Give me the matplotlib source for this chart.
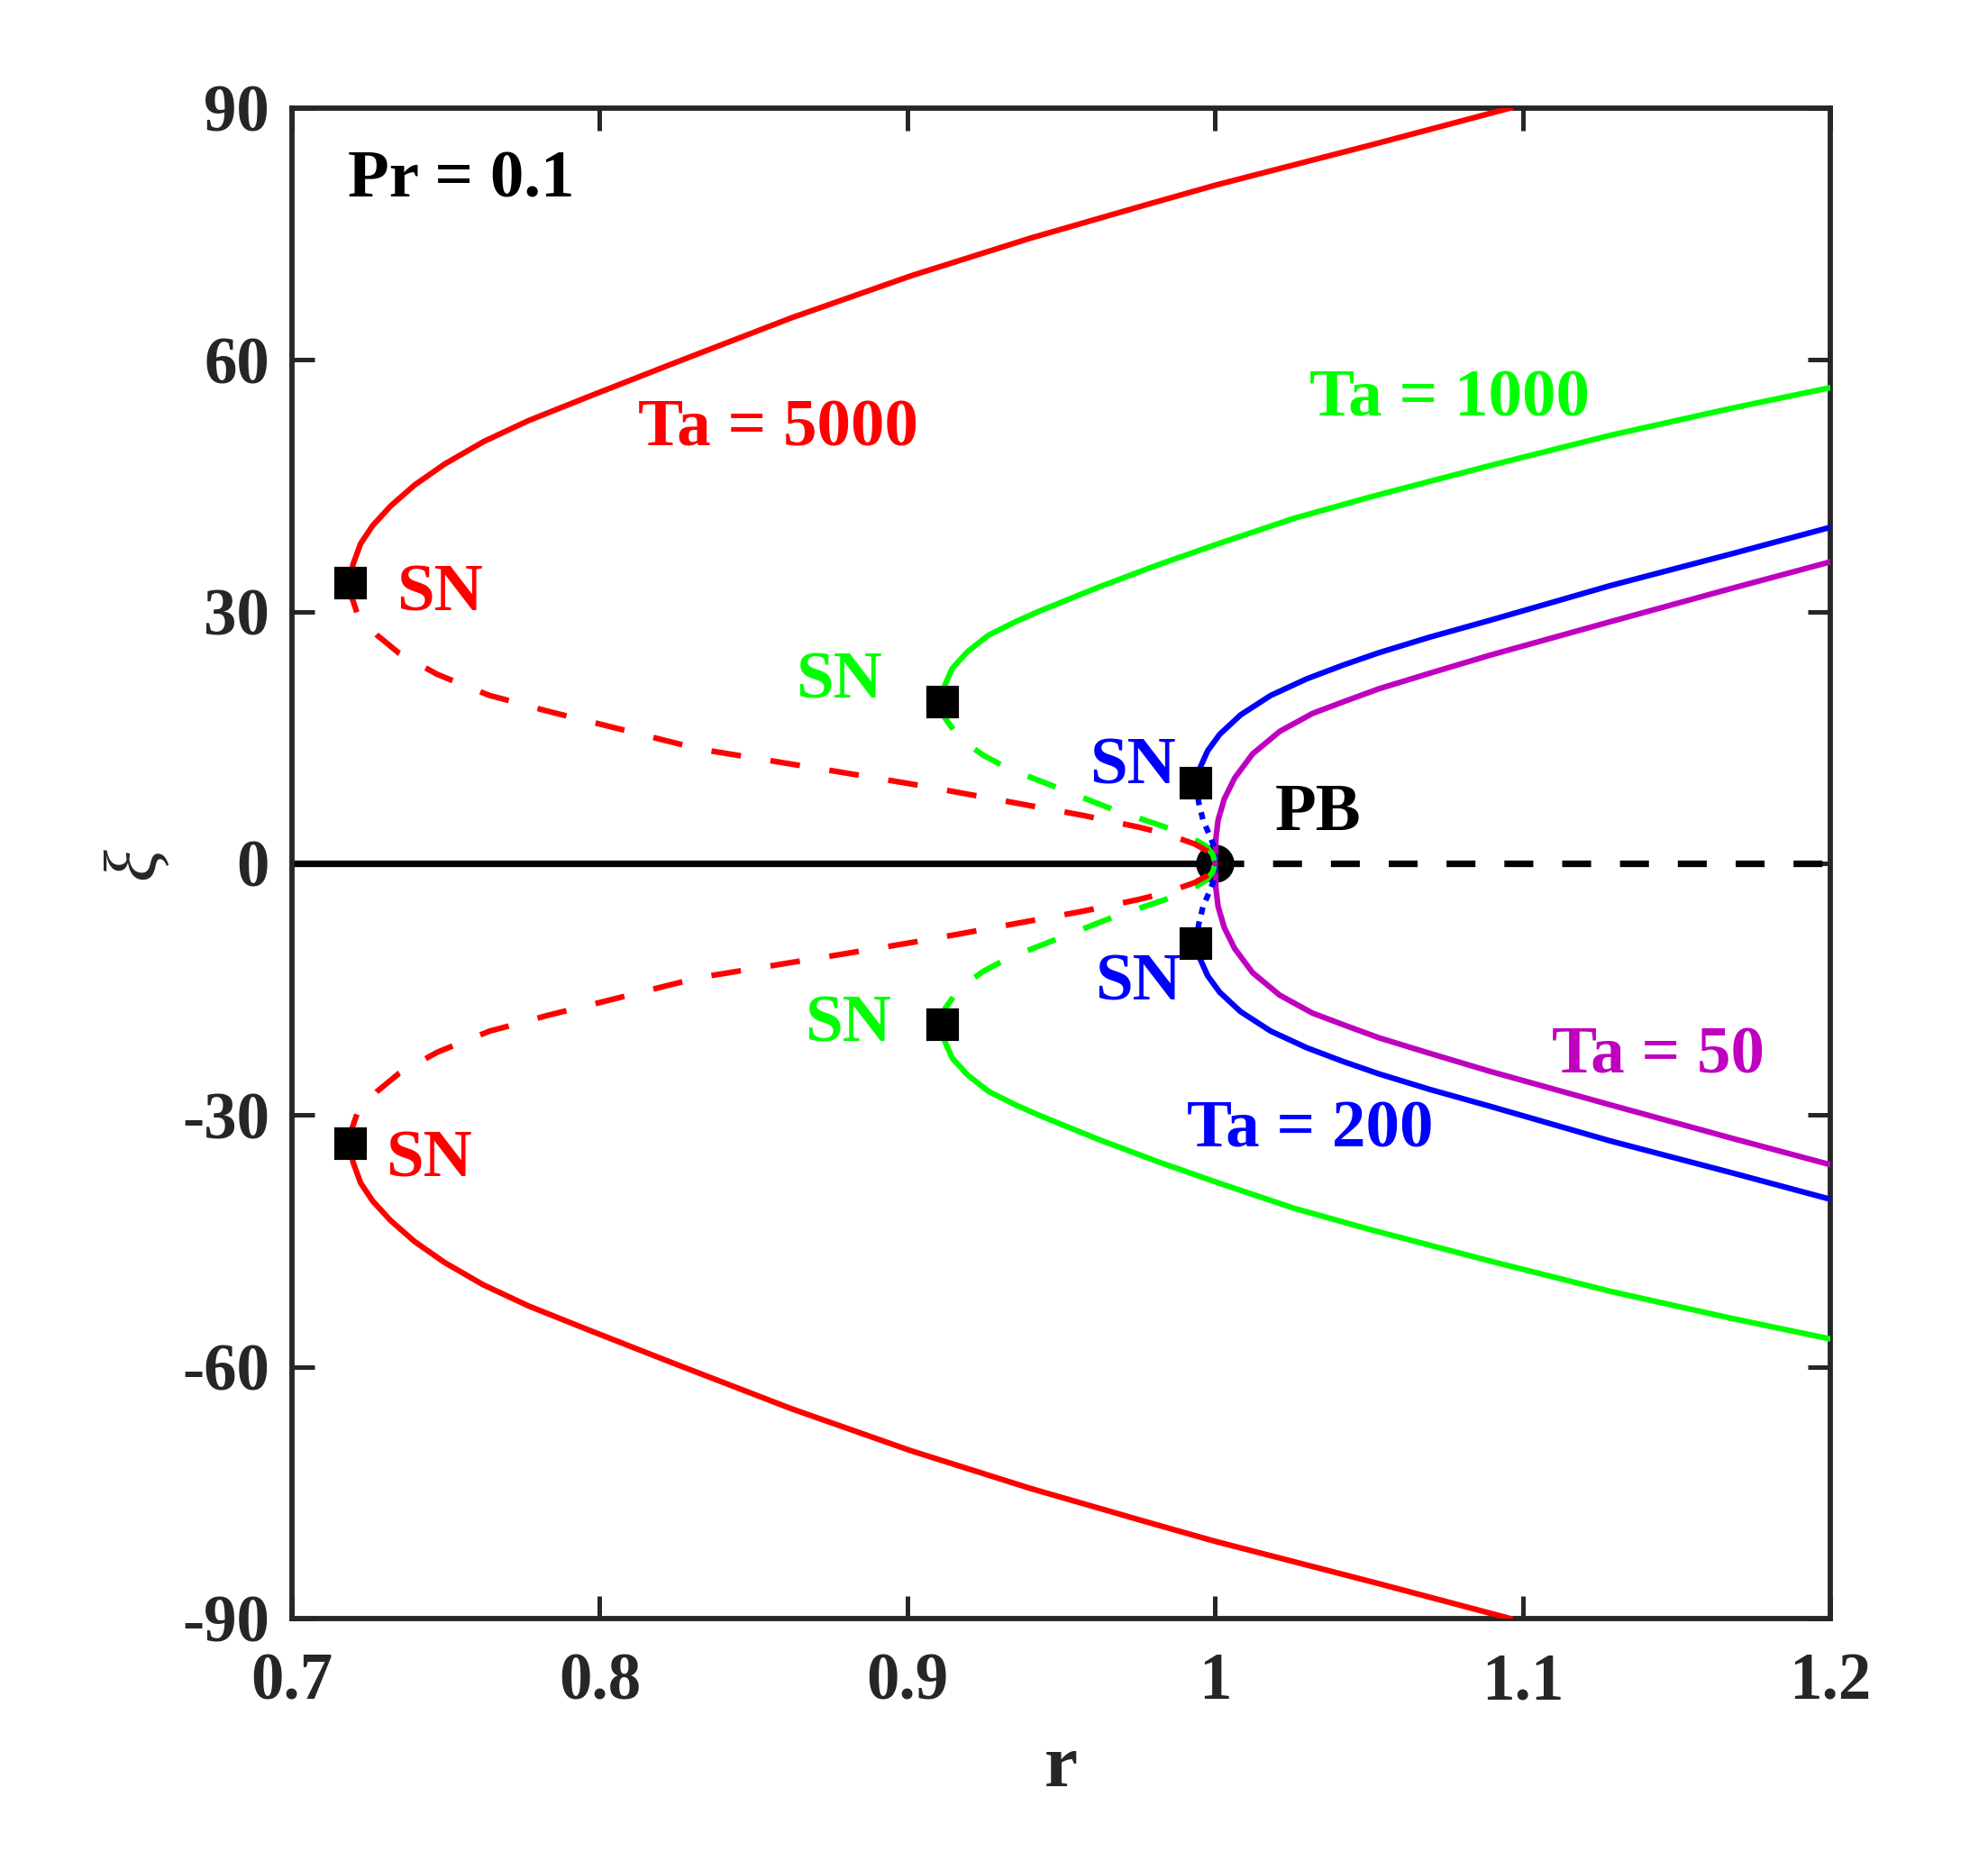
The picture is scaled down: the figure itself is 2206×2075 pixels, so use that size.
import matplotlib
matplotlib.use("Agg")
import matplotlib.pyplot as plt
import numpy as np

# ---------------- data ----------------
# Ta = 5000 (red): upper stable branch and unstable branch (SN -> PB)
red_stable_r = [0.7190, 0.7198, 0.7223, 0.7262, 0.7320, 0.7398, 0.7496, 0.7623, 0.7769,
                0.7965, 0.8234, 0.8623, 0.9011, 0.9400, 0.9788, 1.0000, 1.0517, 1.0959]
red_stable_xi = [33.37, 35.6, 38.1, 40.24, 42.56, 45.07, 47.58, 50.26, 52.76,
                 55.63, 59.5, 65.0, 70.0, 74.5, 78.6, 80.8, 85.7, 90.0]
red_unst_r = [0.7190, 0.7195, 0.7213, 0.7276, 0.7349, 0.7472, 0.7520, 0.7642, 0.7735,
              0.7823, 0.7921, 0.7983, 0.8326, 0.8777, 0.9037, 0.9202, 0.9387, 0.9572,
              0.9753, 0.9841, 0.9934, 0.9973, 0.9995, 1.0000]
red_unst_xi = [33.37, 31.6, 29.67, 27.2, 25.0, 22.52, 21.8, 20.0, 19.1,
               18.2, 17.3, 16.75, 13.6, 10.9, 9.3, 8.2, 6.95, 5.7,
               4.3, 3.5, 2.3, 1.5, 0.65, 0.0]

# Ta = 1000 (green)
green_stable_r = [0.91145, 0.9122, 0.9146, 0.9195, 0.9263, 0.9351, 0.9426, 0.9621, 0.9817,
                  1.0012, 1.0256, 1.0503, 1.0894, 1.1284, 1.1675, 1.2002]
green_stable_xi = [19.19, 21.26, 23.23, 25.2, 27.17, 28.78, 30.0, 32.9, 35.6,
                   38.1, 41.1, 43.64, 47.4, 51.0, 54.2, 56.7]
green_unst_r = [0.91145, 0.9122, 0.9171, 0.9248, 0.9331, 0.9419, 0.9507, 0.9593, 0.9680,
                0.9767, 0.9856, 0.9943, 0.9973, 0.9993, 1.0000]
green_unst_xi = [19.19, 17.33, 14.82, 12.85, 11.24, 9.99, 8.73, 7.5, 6.25,
                 5.2, 4.1, 2.65, 2.0, 1.0, 0.0]

# Ta = 200 (blue)
blue_stable_r = [0.99388, 0.99518, 0.9976, 1.0015, 1.0083, 1.0181, 1.0298, 1.0415, 1.0533,
                 1.0698, 1.0894, 1.1284, 1.1675, 1.2002]
blue_stable_xi = [9.52, 11.42, 13.4, 15.36, 17.68, 20.0, 21.98, 23.6, 25.1,
                  26.95, 28.96, 33.08, 36.84, 40.06]
blue_unst_r = [0.99388, 0.99467, 0.9961, 0.9980, 0.99956, 1.0000]
blue_unst_xi = [9.52, 7.3, 5.15, 3.54, 2.1, 0.0]

# Ta = 50 (magenta)
mag_stable_r = [1.0000, 1.0003, 1.0010, 1.0030, 1.0064, 1.0122, 1.0210, 1.0317, 1.0425,
                1.0533, 1.0698, 1.0894, 1.1284, 1.1675, 1.2002]
mag_stable_xi = [0.0, 3.0, 5.15, 7.66, 10.17, 13.03, 15.71, 17.86, 19.35,
                 20.8, 22.65, 24.8, 28.78, 32.72, 35.94]

# trivial branch
triv_stable_r = [0.7, 1.0]
triv_unst_r = [1.0, 1.2]
triv_xi = [0.0, 0.0]

# special points
sn_r = [0.7190, 0.91145, 0.99388]
sn_xi = [33.37, 19.19, 9.52]
pb_r = [1.0]
pb_xi = [0.0]

x_ticks = [0.7, 0.8, 0.9, 1.0, 1.1, 1.2]
x_ticklabels = ["0.7", "0.8", "0.9", "1", "1.1", "1.2"]
y_ticks = [-90, -60, -30, 0, 30, 60, 90]
y_ticklabels = ["-90", "-60", "-30", "0", "30", "60", "90"]

RED = "#FF0000"
GREEN = "#00FF00"
BLUE = "#0000FF"
MAG = "#BF00BF"
AXC = "#262626"

serif = ["Liberation Serif", "DejaVu Serif"]
plt.rcParams["font.family"] = serif

fig = plt.figure(figsize=(2206 / 300, 2075 / 300), dpi=300)
ax = fig.add_axes([0.1469, 0.1345, 0.7738, 0.8077])

LW = 1.5
DASH = (5.3, 5.3)
DOT = (1.3, 1.3)

# trivial branch
ax.plot(triv_stable_r, triv_xi, color="black", lw=1.75, solid_capstyle="butt", zorder=2)
ax.plot(triv_unst_r, triv_xi, color="black", lw=1.75, dashes=(4.4, 4.4), zorder=2)

# PB marker
ax.plot(pb_r, pb_xi, "o", color="black", ms=9.2, zorder=2.5)

curves = [
    (mag_stable_r, mag_stable_xi, None, None, MAG, None),
    (blue_stable_r, blue_stable_xi, blue_unst_r, blue_unst_xi, BLUE, DOT),
    (green_stable_r, green_stable_xi, green_unst_r, green_unst_xi, GREEN, DASH),
    (red_stable_r, red_stable_xi, red_unst_r, red_unst_xi, RED, DASH),
]
for sr, sx, ur, ux, col, pat in curves:
    sr, sx = np.asarray(sr), np.asarray(sx)
    for sgn in (1, -1):
        ax.plot(sr, sgn * sx, color=col, lw=LW, zorder=3,
                solid_joinstyle="round")
        if ur is not None:
            r_, x_ = np.asarray(ur), np.asarray(ux)
            ax.plot(r_, sgn * x_, color=col, lw=LW, dashes=pat, zorder=3,
                    dash_joinstyle="round")

# SN markers
for sgn in (1, -1):
    ax.plot(sn_r, sgn * np.asarray(sn_xi), "s", color="black", ms=7.7, zorder=5)

# annotations
tkw = dict(fontsize=18, fontweight="bold", ha="center", va="baseline", family=serif)
ax.text(0.7551, 79.4, "Pr = 0.1", color="black", **tkw)
ax.text(0.858, 49.8, "Ta = 5000", color=RED, **tkw)
ax.text(1.0761, 53.3, "Ta = 1000", color=GREEN, **tkw)
ax.text(1.1439, -25.0, "Ta = 50", color=MAG, **tkw)
ax.text(1.031, -33.8, "Ta = 200", color=BLUE, **tkw)
ax.text(1.0335, 4.0, "PB", color="black", **tkw)
ax.text(0.7481, 30.1, "SN", color=RED, **tkw)
ax.text(0.7445, -37.3, "SN", color=RED, **tkw)
ax.text(0.8777, 19.66, "SN", color=GREEN, **tkw)
ax.text(0.8807, -21.2, "SN", color=GREEN, **tkw)
ax.text(0.9733, 9.54, "SN", color=BLUE, **tkw)
ax.text(0.9749, -16.3, "SN", color=BLUE, **tkw)

# axes styling
ax.set_xlim(0.7, 1.2)
ax.set_ylim(-90, 90)
ax.set_xticks(x_ticks)
ax.set_xticklabels(x_ticklabels)
ax.set_yticks(y_ticks)
ax.set_yticklabels(y_ticklabels)
for sp in ax.spines.values():
    sp.set_color(AXC)
    sp.set_linewidth(1.4)
ax.tick_params(axis="both", which="both", direction="in", top=True, right=True,
               length=6, width=1.2, color=AXC, labelcolor=AXC, labelsize=17.5)
ax.tick_params(axis="x", pad=9)
ax.tick_params(axis="y", pad=6)
for lab in ax.get_xticklabels() + ax.get_yticklabels():
    lab.set_fontweight("bold")
    lab.set_family(serif)

ax.set_xlabel("r", fontsize=20, fontweight="bold", color=AXC, family=serif)
ax.set_ylabel("ξ", fontsize=20, fontstyle="italic", color=AXC, family=serif)
ax.xaxis.set_label_coords(0.5, -0.077)
ax.yaxis.set_label_coords(-0.079, 0.5)

fig.savefig("out.png", dpi=300)
